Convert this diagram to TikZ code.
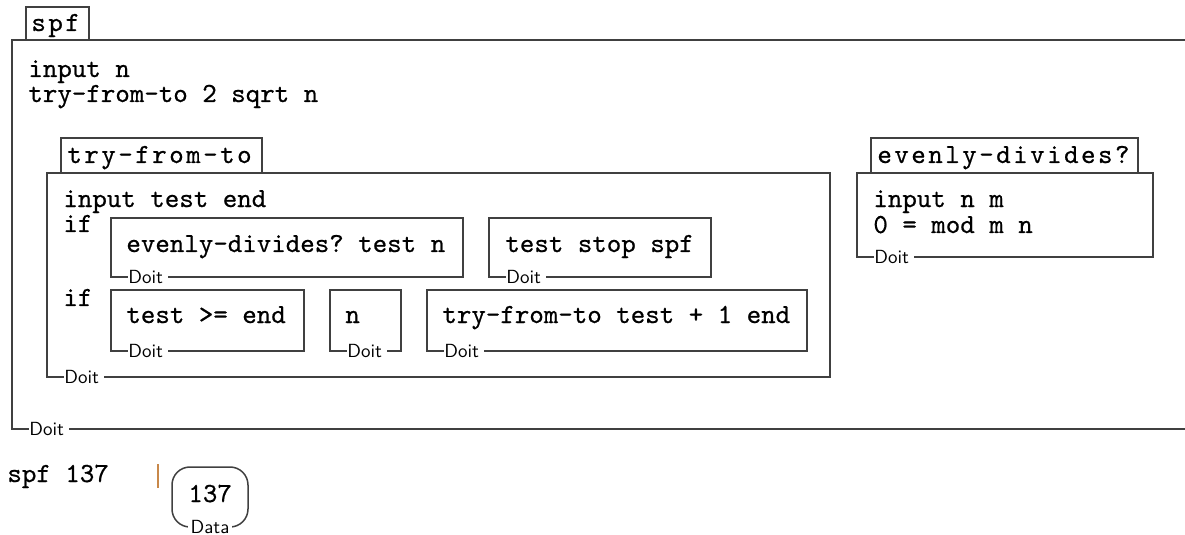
\documentclass[tikz,border=0pt]{standalone}
\usepackage{fontspec}
\setmonofont{lmmono10-regular.otf}[FakeBold=0.6]
\usetikzlibrary{positioning}
\definecolor{frame}{HTML}{404040}
\definecolor{cursor}{HTML}{C8884A}
\newcommand{\codefont}{\ttfamily\fontsize{13.8}{16}\selectfont}
\newcommand{\tabfont}{\ttfamily\fontsize{13.8}{16}\selectfont\addfontfeatures{LetterSpace=9}}
\tikzset{
  frm/.style={draw=frame,line width=0.75pt},
  code/.style={anchor=base west,inner sep=0pt,font=\codefont},
  tabtxt/.style={anchor=base west,inner sep=0pt,font=\tabfont},
  doit/.style={anchor=west,fill=white,inner xsep=0pt,inner ysep=0.5pt,font=\sffamily\fontsize{9.5}{11}\selectfont},
}
\begin{document}
\begin{tikzpicture}[x=0.5pt,y=-0.5pt]
\useasboundingbox (0,0) rectangle (1185,535);

% spf
\draw[frm,fill=white] (26,7) rectangle (89,40);
\node[tabtxt] (spftab) at (31,31) {spf};
\draw[frm] (1186,40) -- (12,40) -- (12,429) -- (1186,429);
\node[code] (spfin) at (28,77) {input n};
\node[code] (spfcall) at (28,102) {try-from-to 2 sqrt n};
\node[doit] (spfdoit) at (29,429) {Doit\kern2.5pt};

% try-from-to
\draw[frm] (61,138) rectangle (262,173);
\node[tabtxt] (trytab) at (67,163) {try-from-to};
\draw[frm] (47,173) rectangle (830,377);
\node[code] (tryin) at (63,207) {input test end};
\node[code] (if1) at (63,232) {if};
\node[code] (if2) at (63,306) {if};
\node[doit] (trydoit) at (64,377) {Doit\kern2.5pt};

\draw[frm] (111,218) rectangle (463,277);
\node[code] (cond1) at (126,252) {evenly-divides? test n};
\node[doit] (cond1doit) at (128,277) {Doit\kern2.5pt};

\draw[frm] (489,218) rectangle (711,277);
\node[code] (then1) at (505,252) {test stop spf};
\node[doit] (then1doit) at (506,277) {Doit\kern2.5pt};

\draw[frm] (111,290) rectangle (304,351);
\node[code] (cond2) at (126,323) {test >= end};
\node[doit] (cond2doit) at (128,351) {Doit\kern2.5pt};

\draw[frm] (330,290) rectangle (401,351);
\node[code] (then2) at (345,323) {n};
\node[doit] (then2doit) at (347,351) {Doit\kern2.5pt};

\draw[frm] (427,290) rectangle (807,351);
\node[code] (else2) at (442,323) {try-from-to test + 1 end};
\node[doit] (else2doit) at (444,351) {Doit\kern2.5pt};

% evenly-divides?
\draw[frm] (871,138) rectangle (1138,173);
\node[tabtxt] (evtab) at (877,163) {evenly-divides?};
\draw[frm] (857,173) rectangle (1153,257);
\node[code] (evin) at (873,207) {input n m};
\node[code] (evbody) at (873,233) {0 = mod m n};
\node[doit] (evdoit) at (874,257) {Doit\kern2.5pt};

% call and result
\node[code] (callline) at (7,482) {spf 137};
\draw[cursor,line width=1pt] (158,464) -- (158,488);
\draw[frm,rounded corners=9pt] (172,467) rectangle (248,527);
\node[code] (result) at (188,502) {137};
\node[doit,anchor=center,inner xsep=1.5pt] (resdata) at (210,527) {Data};
\end{tikzpicture}
\end{document}
